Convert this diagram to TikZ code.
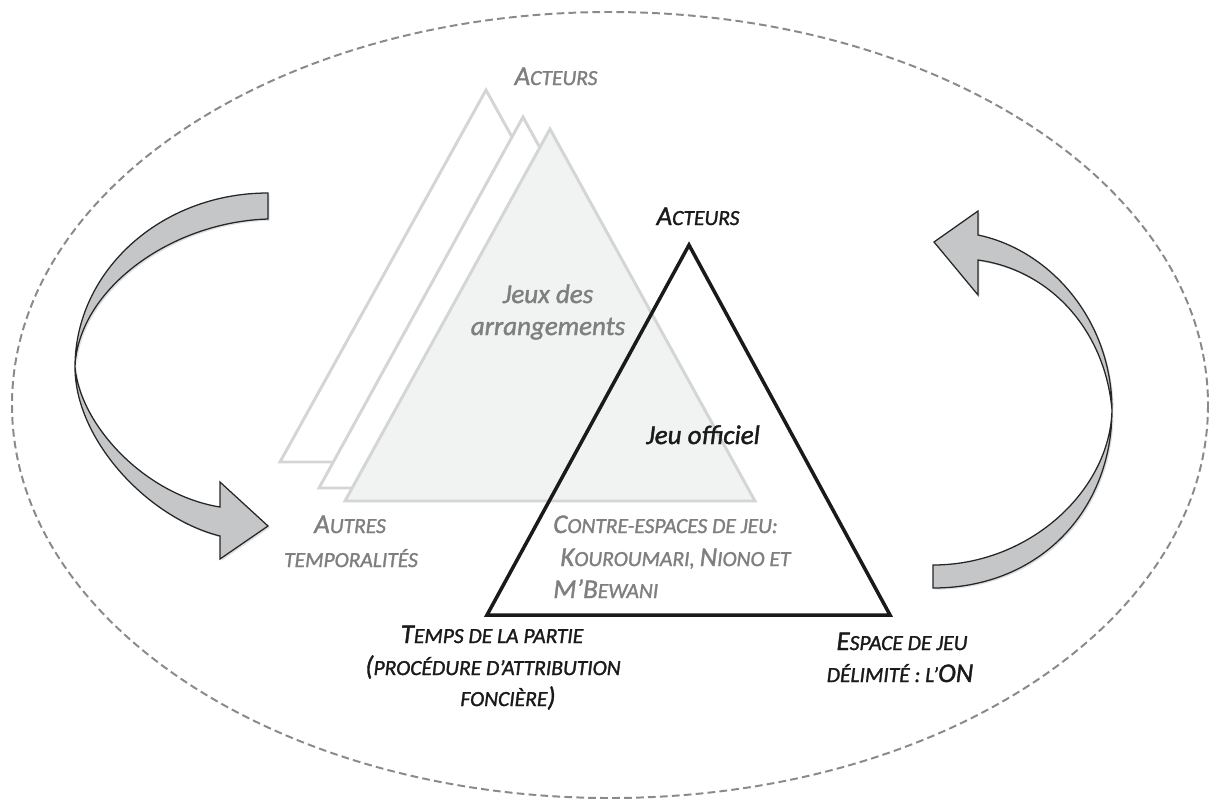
\documentclass[tikz,border=0pt]{standalone}
\usepackage{fontspec}
\setmainfont{Carlito}
\newfontfamily\lblfont{Carlito}[ItalicFeatures={FakeBold=1.4}, UprightFeatures={FakeBold=1.4}]
\usetikzlibrary{shadows}
\definecolor{ellgray}{HTML}{8A8A8A}
\definecolor{trigray}{HTML}{D3D5D6}
\definecolor{trifill}{HTML}{F1F2F2}
\definecolor{txtgray}{HTML}{7F7F7F}
\definecolor{txtblack}{HTML}{1A1A1A}
\definecolor{arrowfill}{HTML}{C4C6C8}
\newcommand\smc[1]{{\fontsize{15.3}{18}\selectfont #1}}
\tikzset{
  lbl/.style={font=\lblfont\itshape\fontsize{19.2}{23}\selectfont, inner sep=0pt, anchor=base},
  glbl/.style={lbl, text=txtgray},
  blbl/.style={lbl, text=txtblack},
  backtri/.style={draw=trigray, line width=2.1pt, line join=miter, fill=white},
  fronttri/.style={draw=trigray, line width=2.1pt, line join=miter, fill=trifill},
  maintri/.style={draw=txtblack, line width=2.5pt, line join=miter},
  curvarrow/.style={draw=black!85, line width=0.9pt, fill=arrowfill, line join=miter,
     drop shadow={opacity=0.25, shadow xshift=1.2pt, shadow yshift=-1.2pt}},
  ellipseline/.style={draw=ellgray, line width=1.4pt, dash pattern=on 5.5pt off 3pt},
}
\begin{document}
\begin{tikzpicture}[x=0.025cm, y=-0.025cm]
\useasboundingbox (0,0) rectangle (1217,804);

% dashed ellipse
\draw[ellipseline] (610,405) ellipse [x radius=598, y radius=393];

% left curved arrow
\draw[curvarrow] (75,367) .. controls (75,440) and (148,518) .. (220,536)
  -- (220,559) -- (268,526) -- (220,482) -- (220,507)
  .. controls (145,495) and (80,425) .. (75,367) -- cycle;
\draw[curvarrow] (268,193) .. controls (161,193) and (75,271) .. (75,367)
  .. controls (78,290) and (170,222) .. (268,219) -- cycle;

% right curved arrow
\draw[curvarrow] (933,588) .. controls (1040,588) and (1112,510) .. (1112,410)
  .. controls (1110,490) and (1030,565) .. (933,565) -- cycle;
\draw[curvarrow] (1112,410) .. controls (1112,320) and (1050,250) .. (978,235)
  -- (978,211) -- (934,242) -- (978,295) -- (978,260)
  .. controls (1050,270) and (1105,330) .. (1112,410) -- cycle;

% triangles
\coordinate (t1a) at (486,90);  \coordinate (t1b) at (280,462); \coordinate (t1c) at (692,462);
\coordinate (t2a) at (523,117); \coordinate (t2b) at (319,488); \coordinate (t2c) at (727,488);
\coordinate (t3a) at (550,129); \coordinate (t3b) at (345,501); \coordinate (t3c) at (755,501);
\coordinate (ma) at (689,245);  \coordinate (mb) at (487,615);  \coordinate (mc) at (890,615);
\draw[backtri] (t1a) -- (t1b) -- (t1c) -- cycle;
\draw[backtri] (t2a) -- (t2b) -- (t2c) -- cycle;
\draw[fronttri] (t3a) -- (t3b) -- (t3c) -- cycle;
\draw[maintri] (ma) -- (mb) -- (mc) -- cycle;

% labels
\node[glbl] (acteursback) at (556,85) {A\smc{CTEURS}};
\node[blbl] (acteursfront) at (698,225) {A\smc{CTEURS}};
\node[glbl] (jeux1) at (548,303) {Jeux des};
\node[glbl] (jeux2) at (548,335) {arrangements};
\node[blbl] (officiel) at (703,444) {Jeu officiel};
\node[glbl] (autres1) at (350,533) {A\smc{UTRES}};
\node[glbl] (autres2) at (351,567) {\smc{TEMPORALITÉS}};
\node[glbl, anchor=base west] (contre1) at (553,533) {C\smc{ONTRE-ESPACES DE JEU:}};
\node[glbl, anchor=base west] (contre2) at (560,566) {K\smc{OUROUMARI, }N\smc{IONO ET}};
\node[glbl, anchor=base west] (contre3) at (553,598) {M’B\smc{EWANI}};
\node[blbl] (temps1) at (492,643) {T\smc{EMPS DE LA PARTIE}};
\node[blbl] (temps2) at (493,675) {(\smc{PROCÉDURE D’ATTRIBUTION}};
\node[blbl] (temps3) at (508,706) {\smc{FONCIÈRE})};
\node[blbl] (espace1) at (902,650) {E\smc{SPACE DE JEU}};
\node[blbl] (espace2) at (900,682) {\smc{DÉLIMITÉ : L’}ON};
\end{tikzpicture}
\end{document}
